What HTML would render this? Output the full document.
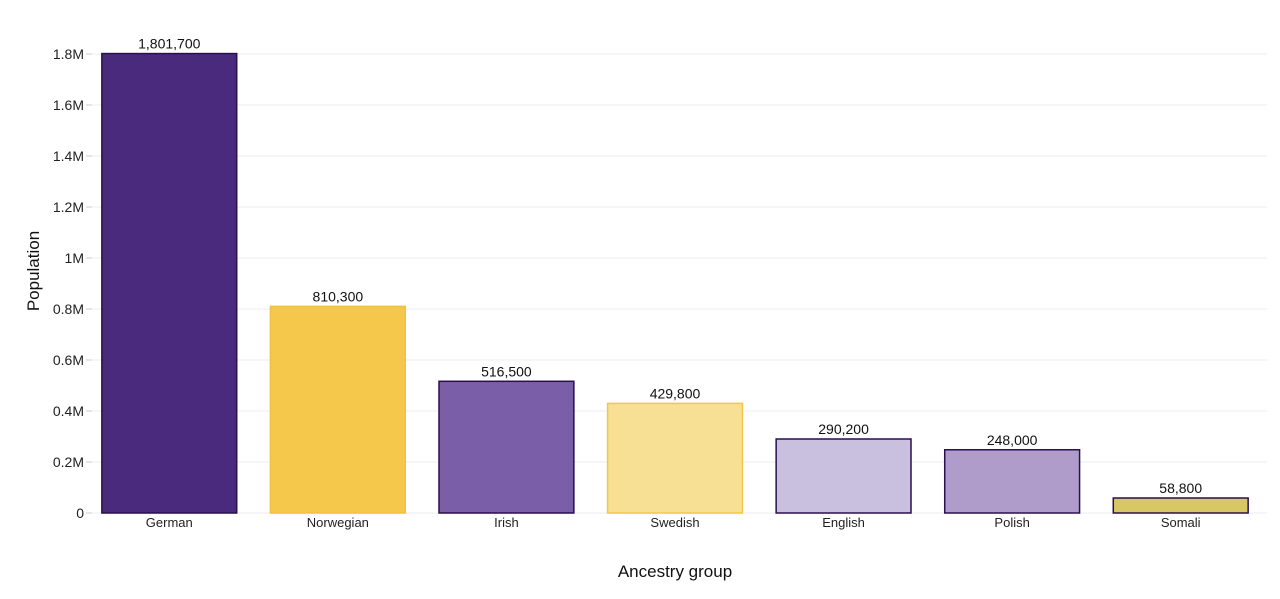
<!DOCTYPE html>
<html><head><meta charset="utf-8"><style>
body{margin:0;background:#fff;font-family:"Liberation Sans",sans-serif}
svg text{font-family:"Liberation Sans",sans-serif}
</style></head><body>
<svg id="chart" width="1280" height="594" xmlns="http://www.w3.org/2000/svg"></svg>
<script>
const categories=["German","Norwegian","Irish","Swedish","English","Polish","Somali"];
const values=[1801700,810300,516500,429800,290200,248000,58800];
const fills=["#4a2a7d","#f5c84c","#7a5ea8","#f7e094","#c9bfdf","#af9ccb","#d8c765"];
const strokes=["#2a0f4f","#f0c040","#2a0f4f","#f0c848","#2a0f4f","#2a0f4f","#2a0f4f"];
const ticks=[0,200000,400000,600000,800000,1000000,1200000,1400000,1600000,1800000];
const tickLabels=["0","0.2M","0.4M","0.6M","0.8M","1M","1.2M","1.4M","1.6M","1.8M"];
const NS="http://www.w3.org/2000/svg";
const svg=document.getElementById('chart');
const x0=85,x1=1265,y0=513,yTop=54,maxV=1800000;
const y=v=>y0-(v/maxV)*(y0-yTop);
const band=(x1-x0)/categories.length;
const xC=i=>x0+band*(i+0.5);
function mk(t,a){const e=document.createElementNS(NS,t);for(const k in a)e.setAttribute(k,a[k]);svg.appendChild(e);return e;}
ticks.forEach((t,i)=>{
 const g=mk('line',{x1:x0+2,x2:x1+2,y1:y(t),y2:y(t),stroke:'#ececf0','stroke-width':1});
 
 
 const tm=mk('line',{x1:x0+1,x2:x0+7,y1:y(t),y2:y(t),stroke:'#ccc'});
 
 
 const l=mk('text',{x:84,y:y(t)+5,'text-anchor':'end','font-size':14,fill:'#222'});
 l.textContent=tickLabels[i];
 
 
});
const bw=band*0.8;
categories.forEach((c,i)=>{
 const r=mk('rect',{x:xC(i)-bw/2,y:y(values[i]),width:bw,height:y0-y(values[i]),fill:fills[i],stroke:strokes[i],'stroke-width':1.5});
 
 
 const v=mk('text',{x:xC(i),y:y(values[i])-5,'text-anchor':'middle','font-size':14,fill:'#111'});
 v.textContent=values[i].toLocaleString('en-US');
 
 
 const l=mk('text',{x:xC(i),y:527,'text-anchor':'middle','font-size':13,fill:'#222'});
 l.textContent=c;
 
 
});
const xt=mk('text',{x:675,y:577,'text-anchor':'middle','font-size':17,fill:'#111'});
xt.textContent='Ancestry group';


const yt=mk('text',{x:0,y:0,'text-anchor':'middle','font-size':17,fill:'#111',transform:'translate(39,271) rotate(-90)'});
yt.textContent='Population';


</script>
</body></html>
